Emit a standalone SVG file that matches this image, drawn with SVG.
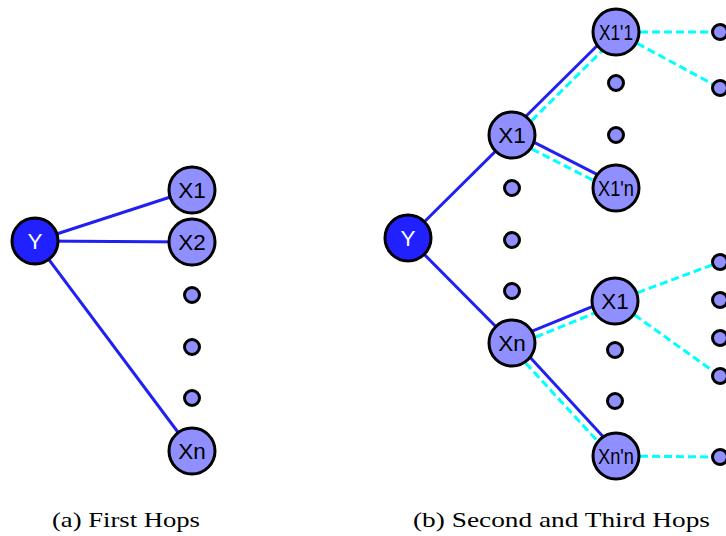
<svg xmlns="http://www.w3.org/2000/svg" width="726" height="536" viewBox="0 0 726 536">
  <style>
    .edge { stroke: #2020f0; stroke-width: 3; fill: none; }
    .dash { stroke: #00ffff; stroke-width: 3; fill: none; stroke-dasharray: 8 4; }
    .node { fill: #8f8fff; stroke: #000; stroke-width: 3; }
    .root { fill: #2121ff; stroke: #000; stroke-width: 3; }
    .dot { fill: #8f8fff; stroke: #000; stroke-width: 3; }
    .lbl { font-family: "Liberation Sans", Arial, sans-serif; font-size: 22.5px; text-anchor: middle; fill: #000; }
    .lbl-w { fill: #fff; }
    .cap { font-family: "Liberation Serif", "Times New Roman", serif; font-size: 21px; fill: #000; }
  </style>
  <rect width="726" height="536" fill="#fff"/>

  <!-- connectors -->
  <g id="connectors">
    <!-- (a) first hops -->
    <line class="edge" x1="35" y1="241" x2="192" y2="190"/>
    <line class="edge" x1="35" y1="241" x2="192" y2="242"/>
    <line class="edge" x1="35" y1="241" x2="192" y2="451"/>
    <!-- (b) first hops -->
    <line class="edge" x1="408" y1="238" x2="512" y2="135"/>
    <line class="edge" x1="408" y1="238" x2="512" y2="343"/>
    <!-- (b) second hops: solid + dashed pairs -->
    <line class="edge" x1="509.5" y1="132.5" x2="613.5" y2="29.5"/>
    <line class="dash" x1="514.5" y1="137.5" x2="618.5" y2="34.5"/>
    <line class="edge" x1="513.6" y1="131.9" x2="617.6" y2="184.9"/>
    <line class="dash" x1="510.4" y1="138.1" x2="614.4" y2="191.1"/>
    <line class="edge" x1="510.7" y1="339.8" x2="613.7" y2="297.8"/>
    <line class="dash" x1="513.3" y1="346.2" x2="616.3" y2="304.2"/>
    <line class="edge" x1="514.6" y1="340.6" x2="618.6" y2="453.6"/>
    <line class="dash" x1="509.4" y1="345.4" x2="613.4" y2="458.4"/>
    <!-- (b) third hops -->
    <line class="dash" x1="616" y1="32" x2="720" y2="32"/>
    <line class="dash" x1="616" y1="32" x2="720" y2="88"/>
    <line class="dash" x1="615" y1="301" x2="720" y2="262"/>
    <line class="dash" x1="615" y1="301" x2="720" y2="376"/>
    <line class="dash" x1="616" y1="456" x2="720" y2="457"/>
  </g>

  <!-- (a) nodes -->
  <g id="a-Y"><circle class="root" cx="35" cy="241" r="23"/><text class="lbl lbl-w" x="35" y="249">Y</text></g>
  <g id="a-X1"><circle class="node" cx="192" cy="190" r="23"/><text class="lbl" x="192" y="198">X1</text></g>
  <g id="a-X2"><circle class="node" cx="192" cy="242" r="23"/><text class="lbl" x="192" y="250">X2</text></g>
  <g id="a-dot1"><circle class="dot" cx="192" cy="295" r="7.5"/></g>
  <g id="a-dot2"><circle class="dot" cx="192" cy="347" r="7.5"/></g>
  <g id="a-dot3"><circle class="dot" cx="192" cy="398" r="7.5"/></g>
  <g id="a-Xn"><circle class="node" cx="192" cy="451" r="23"/><text class="lbl" x="192" y="459">Xn</text></g>

  <!-- (b) nodes -->
  <g id="b-Y"><circle class="root" cx="408" cy="238" r="23"/><text class="lbl lbl-w" x="408" y="246">Y</text></g>
  <g id="b-X1"><circle class="node" cx="512" cy="135" r="23"/><text class="lbl" x="512" y="143">X1</text></g>
  <g id="b-dot1"><circle class="dot" cx="512" cy="188" r="7.5"/></g>
  <g id="b-dot2"><circle class="dot" cx="512" cy="240" r="7.5"/></g>
  <g id="b-dot3"><circle class="dot" cx="512" cy="291" r="7.5"/></g>
  <g id="b-Xn"><circle class="node" cx="512" cy="343" r="23"/><text class="lbl" x="512" y="351">Xn</text></g>

  <g id="b-X1p1"><circle class="node" cx="616" cy="32" r="23"/><text class="lbl" x="616" y="40" textLength="34" lengthAdjust="spacingAndGlyphs">X1'1</text></g>
  <g id="b-dot4"><circle class="dot" cx="616" cy="83" r="7.5"/></g>
  <g id="b-dot5"><circle class="dot" cx="616" cy="135" r="7.5"/></g>
  <g id="b-X1pn"><circle class="node" cx="616" cy="188" r="23"/><text class="lbl" x="616" y="196" textLength="36" lengthAdjust="spacingAndGlyphs">X1'n</text></g>
  <g id="b-X1b"><circle class="node" cx="615" cy="301" r="23"/><text class="lbl" x="615" y="309">X1</text></g>
  <g id="b-dot6"><circle class="dot" cx="615" cy="350" r="7.5"/></g>
  <g id="b-dot7"><circle class="dot" cx="615" cy="401" r="7.5"/></g>
  <g id="b-Xnpn"><circle class="node" cx="616" cy="456" r="23"/><text class="lbl" x="616" y="464" textLength="36" lengthAdjust="spacingAndGlyphs">Xn'n</text></g>

  <!-- (b) third-hop leaves -->
  <g id="b-leaf1"><circle class="dot" cx="720" cy="32" r="7.5"/></g>
  <g id="b-leaf2"><circle class="dot" cx="720" cy="88" r="7.5"/></g>
  <g id="b-leaf3"><circle class="dot" cx="720" cy="262" r="7.5"/></g>
  <g id="b-leaf4"><circle class="dot" cx="720" cy="300" r="7.5"/></g>
  <g id="b-leaf5"><circle class="dot" cx="720" cy="338" r="7.5"/></g>
  <g id="b-leaf6"><circle class="dot" cx="720" cy="376" r="7.5"/></g>
  <g id="b-leaf7"><circle class="dot" cx="720" cy="457" r="7.5"/></g>

  <!-- captions -->
  <text class="cap" x="52" y="527" textLength="148" lengthAdjust="spacingAndGlyphs">(a) First Hops</text>
  <text class="cap" x="413" y="527" textLength="297" lengthAdjust="spacingAndGlyphs">(b) Second and Third Hops</text>
</svg>
